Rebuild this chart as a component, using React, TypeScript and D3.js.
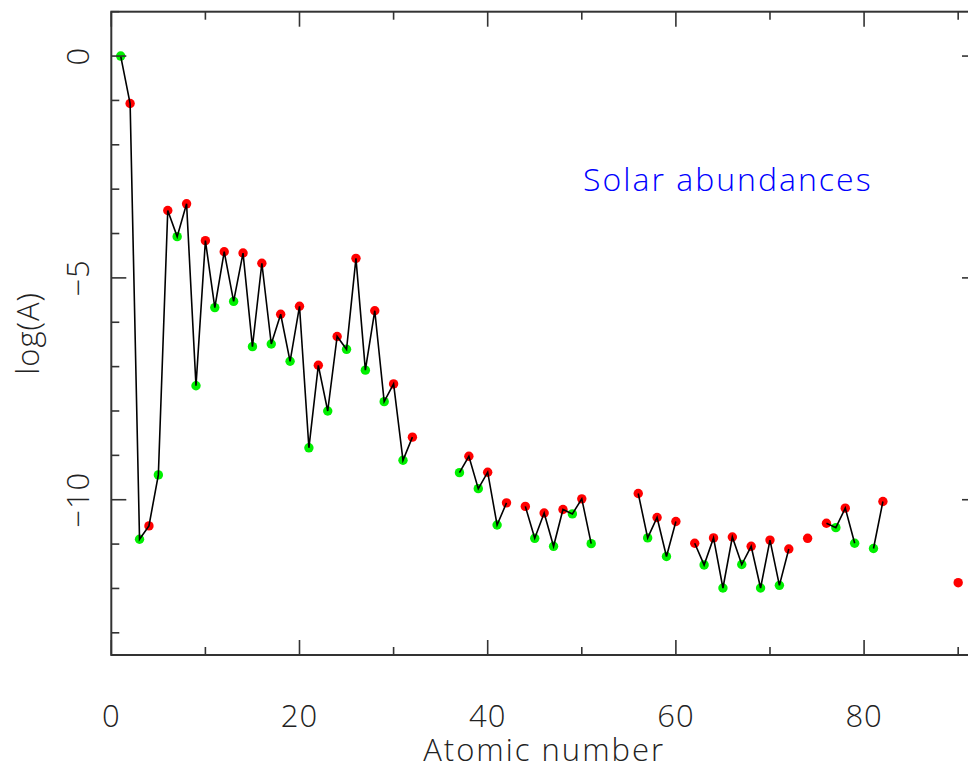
import React from 'react';
import * as d3 from 'd3';

// Elements with a tabulated solar abundance (atomic number Z)
const atomicNumbers = [
  1, 2, 3, 4, 5, 6, 7, 8, 9, 10, 11, 12, 13, 14, 15, 16, 17, 18, 19, 20,
  21, 22, 23, 24, 25, 26, 27, 28, 29, 30, 31, 32,
  37, 38, 39, 40, 41, 42, 44, 45, 46, 47, 48, 49, 50, 51,
  56, 57, 58, 59, 60, 62, 63, 64, 65, 66, 67, 68, 69, 70, 71, 72,
  74, 76, 77, 78, 79, 81, 82, 90,
];

// log10 of the number abundance relative to hydrogen
const logAbundances = [
  0.0, -1.07, -10.89, -10.59, -9.44, -3.48, -4.07, -3.33, -7.43, -4.16,
  -5.67, -4.41, -5.53, -4.44, -6.55, -4.67, -6.49, -5.82, -6.88, -5.64,
  -8.83, -6.97, -8.0, -6.32, -6.61, -4.56, -7.08, -5.74, -7.79, -7.39,
  -9.11, -8.59,
  -9.39, -9.02, -9.75, -9.38, -10.57, -10.07, -10.15, -10.87, -10.3, -11.05,
  -10.22, -10.32, -9.98, -10.99,
  -9.86, -10.86, -10.4, -11.28, -10.49, -10.98, -11.47, -10.86, -11.99, -10.84,
  -11.46, -11.05, -11.99, -10.91, -11.93, -11.11,
  -10.87, -10.53, -10.63, -10.19, -10.98, -11.1, -10.04, -11.87,
];

const xTickLabels = [0, 20, 40, 60, 80];
const yTickLabels = [0, -5, -10];
const annotationText = 'Solar abundances';
const xAxisTitle = 'Atomic number';
const yAxisTitle = 'log(A)';

const W = 968;
const H = 767;
const PLOT = { left: 111.3, right: 977, top: 11.7, bottom: 655 };
const FONT = "'Open Sans', 'Liberation Sans', 'DejaVu Sans', sans-serif";
const ODD_COLOR = '#00f000';
const EVEN_COLOR = '#ff0000';
const FRAME = '#333333';
const TEXT = '#222222';

export default function App() {
  const x = d3.scaleLinear().domain([0, 92]).range([PLOT.left, PLOT.right]);
  const y = d3.scaleLinear().domain([1, -13.5]).range([PLOT.top, PLOT.bottom]);

  const points = atomicNumbers.map((z, i) => ({ z, v: logAbundances[i] }));
  const byZ = new Map(points.map((p) => [p.z, p.v]));

  // Dense series over Z so that missing elements break the polyline
  const dense = d3.range(1, 91).map((z) => ({ z, v: byZ.has(z) ? (byZ.get(z) as number) : null }));
  const line = d3
    .line<{ z: number; v: number | null }>()
    .defined((d) => d.v !== null)
    .x((d) => x(d.z))
    .y((d) => y(d.v as number));

  const xTicks = d3.range(0, 93, 10);
  const yTicks = d3.range(-13, 2, 1);
  const MAJOR = 15;
  const MINOR = 8;

  const textProps = {
    fontFamily: FONT,
    fontWeight: 300,
    fill: TEXT,
  };

  return (
    <svg
      width={W}
      height={H}
      viewBox={`0 0 ${W} ${H}`}
      style={{ position: 'absolute', left: 0, top: 0, background: '#fff' }}
    >
      <rect x={0} y={0} width={W} height={H} fill="#fff" />

      {/* markers */}
      {points.map((p) => (
        <circle
          key={p.z}
          cx={x(p.z)}
          cy={y(p.v)}
          r={4.7}
          fill={p.z % 2 === 1 ? ODD_COLOR : EVEN_COLOR}
        />
      ))}

      {/* connecting polyline */}
      <path d={line(dense) || ''} fill="none" stroke="#000" strokeWidth={1.6} strokeLinejoin="miter" />

      {/* frame */}
      <rect
        x={PLOT.left}
        y={PLOT.top}
        width={PLOT.right - PLOT.left}
        height={PLOT.bottom - PLOT.top}
        fill="none"
        stroke={FRAME}
        strokeWidth={2}
      />

      {/* x ticks, bottom and top */}
      {xTicks.map((t) => {
        const len = t % 20 === 0 ? MAJOR : MINOR;
        const px = x(t);
        return (
          <g key={`xt${t}`} stroke={FRAME} strokeWidth={1.6}>
            <line x1={px} x2={px} y1={PLOT.bottom} y2={PLOT.bottom - len} />
            <line x1={px} x2={px} y1={PLOT.top} y2={PLOT.top + len} />
          </g>
        );
      })}

      {/* y ticks, left and right */}
      {yTicks.map((t) => {
        const len = t % 5 === 0 ? MAJOR : MINOR;
        const py = y(t);
        return (
          <g key={`yt${t}`} stroke={FRAME} strokeWidth={1.6}>
            <line x1={PLOT.left} x2={PLOT.left + len} y1={py} y2={py} />
            <line x1={PLOT.right} x2={PLOT.right - len} y1={py} y2={py} />
          </g>
        );
      })}

      {/* x tick labels */}
      {xTickLabels.map((t) => (
        <text key={`xl${t}`} x={x(t)} y={727} textAnchor="middle" fontSize={31} letterSpacing={1} {...textProps}>
          {t}
        </text>
      ))}

      {/* y tick labels, written along the axis */}
      {yTickLabels.map((t) => (
        <text
          key={`yl${t}`}
          transform={`translate(89, ${y(t)}) rotate(-90)`}
          textAnchor="middle"
          fontSize={31}
          letterSpacing={1}
          {...textProps}
        >
          {t < 0 ? `\u2212${Math.abs(t)}` : `${t}`}
        </text>
      ))}

      {/* axis titles */}
      <text
        x={(PLOT.left + PLOT.right) / 2}
        y={761}
        textAnchor="middle"
        fontSize={31}
        letterSpacing={2}
        {...textProps}
      >
        {xAxisTitle}
      </text>
      <text
        transform={`translate(39, ${(PLOT.top + PLOT.bottom) / 2}) rotate(-90)`}
        textAnchor="middle"
        fontSize={31}
        letterSpacing={1}
        {...textProps}
      >
        {yAxisTitle}
      </text>

      {/* annotation */}
      <text x={583} y={191} fontSize={32} letterSpacing={2} {...textProps} fill="#0000ff">
        {annotationText}
      </text>
    </svg>
  );
}
